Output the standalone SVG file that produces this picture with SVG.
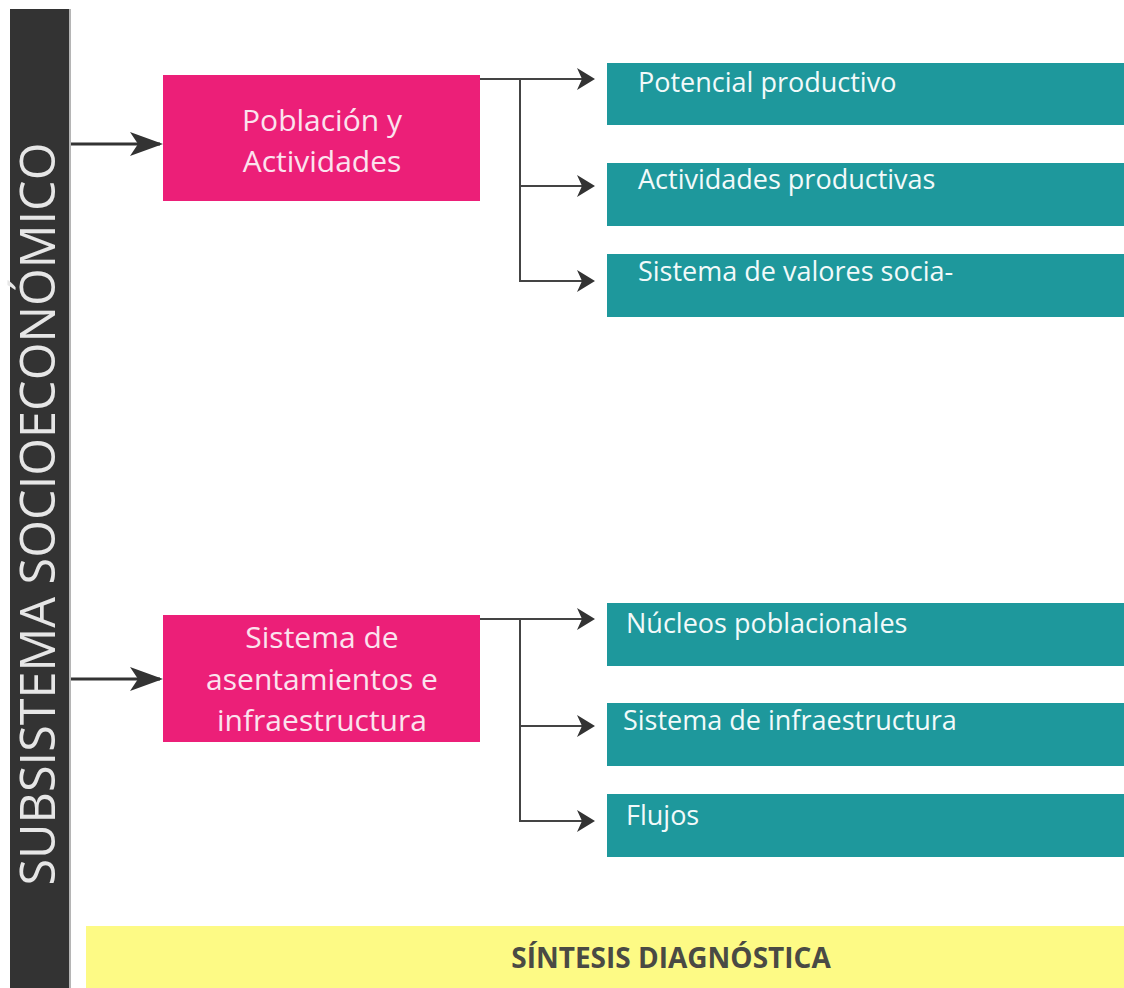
<svg xmlns="http://www.w3.org/2000/svg" width="1124" height="988" viewBox="0 0 1124 988">
<style>
.pink{fill:#ec1f78}
.teal{fill:#1e989c}
.pt{font-family:"Open Sans","Liberation Sans",sans-serif;font-size:30px;fill:#fbe3ee;text-anchor:middle}
.tt{font-family:"Open Sans","Liberation Sans",sans-serif;font-size:27px;fill:#f2fafa}
.main{stroke:#333;stroke-width:3;fill:none}
.br{stroke:#444;stroke-width:2;fill:none}
</style>
<defs>
<marker id="big" markerUnits="userSpaceOnUse" markerWidth="34" markerHeight="26" refX="30" refY="12" orient="auto">
<path d="M0,0 L33,12 L0,24 L8,12 Z" fill="#333"/>
</marker>
<marker id="sm" markerUnits="userSpaceOnUse" markerWidth="20" markerHeight="24" refX="16" refY="11" orient="auto">
<path d="M0,0 L18,11 L0,22 L5,11 Z" fill="#333"/>
</marker>
</defs>
<rect width="1124" height="988" fill="#ffffff"/>
<g id="bar">
<rect x="10" y="9" width="60" height="979" fill="#333333"/>
<rect x="69" y="9" width="2" height="979" fill="#b5b5b5"/>
<text transform="translate(55,514) rotate(-90)" font-family="'Open Sans','Liberation Sans',sans-serif" font-size="48.6" fill="#e6e6e6" text-anchor="middle">SUBSISTEMA SOCIOECONÓMICO</text>
</g>
<g id="connectors">
<path class="main" d="M71,144 H160" marker-end="url(#big)"/>
<path class="main" d="M71,679 H160" marker-end="url(#big)"/>
<path class="br" d="M480,79 H593" marker-end="url(#sm)"/>
<path class="br" d="M520,79 V281"/>
<path class="br" d="M520,186 H593" marker-end="url(#sm)"/>
<path class="br" d="M519,281 H593" marker-end="url(#sm)"/>
<path class="br" d="M480,619 H593" marker-end="url(#sm)"/>
<path class="br" d="M520,619 V821"/>
<path class="br" d="M520,726 H593" marker-end="url(#sm)"/>
<path class="br" d="M519,821 H593" marker-end="url(#sm)"/>
</g>
<g id="poblacion">
<rect class="pink" x="163" y="75" width="317" height="126"/>
<text class="pt" x="322" y="131">Población y</text>
<text class="pt" x="322" y="172">Actividades</text>
</g>
<g id="asentamientos">
<rect class="pink" x="163" y="615" width="317" height="127"/>
<text class="pt" x="322" y="648">Sistema de</text>
<text class="pt" x="322" y="690">asentamientos e</text>
<text class="pt" x="322" y="731">infraestructura</text>
</g>
<g id="potencial">
<rect class="teal" x="607" y="63" width="517" height="62"/>
<text class="tt" x="638" y="92">Potencial productivo</text>
</g>
<g id="actividades">
<rect class="teal" x="607" y="163" width="517" height="63"/>
<text class="tt" x="638" y="189">Actividades productivas</text>
</g>
<g id="valores">
<rect class="teal" x="607" y="254" width="517" height="63"/>
<text class="tt" x="638" y="281">Sistema de valores socia-</text>
</g>
<g id="nucleos">
<rect class="teal" x="607" y="603" width="517" height="63"/>
<text class="tt" x="626" y="633">Núcleos poblacionales</text>
</g>
<g id="infraestructura">
<rect class="teal" x="607" y="703" width="517" height="63"/>
<text class="tt" x="623" y="730">Sistema de infraestructura</text>
</g>
<g id="flujos">
<rect class="teal" x="607" y="794" width="517" height="63"/>
<text class="tt" x="626" y="825">Flujos</text>
</g>
<g id="sintesis">
<rect x="86" y="926" width="1038" height="62" fill="#fdfa85"/>
<text x="671" y="968" font-family="'Open Sans','Liberation Sans',sans-serif" font-size="28" font-weight="bold" fill="#4a4a44" text-anchor="middle">SÍNTESIS DIAGNÓSTICA</text>
</g>
</svg>
